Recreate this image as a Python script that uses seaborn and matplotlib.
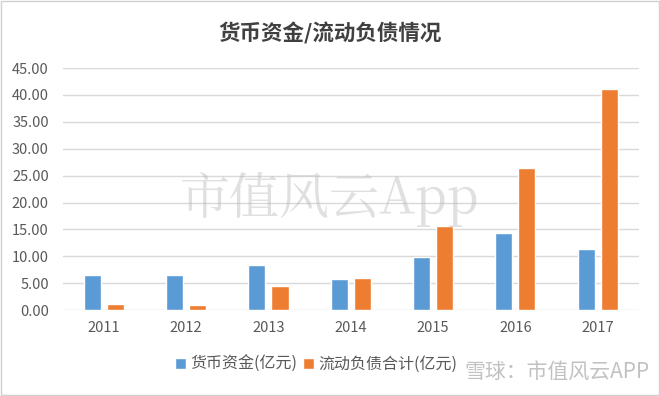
import matplotlib
matplotlib.use('Agg')
import matplotlib.pyplot as plt
import pandas as pd
import seaborn as sns

# values (亿元)
years = ['2011', '2012', '2013', '2014', '2015', '2016', '2017']
cash = [6.5, 6.5, 8.4, 5.8, 9.8, 14.3, 11.3]
current_liab = [1.2, 1.0, 4.5, 6.0, 15.7, 26.5, 41.1]
series_names = ['货币资金(亿元)', '流动负债合计(亿元)']
colors = ['#5B9BD5', '#ED7D31']

df = pd.DataFrame({
    'year': years * 2,
    'value': cash + current_liab,
    'series': [series_names[0]] * len(years) + [series_names[1]] * len(years),
})

sns.set_theme(style='white')
plt.rcParams['font.family'] = ['Noto Sans CJK SC', 'DejaVu Sans']

fig = plt.figure(figsize=(6.6, 3.96), dpi=100)
ax = fig.add_axes([0.095, 0.217, 0.873, 0.611])

sns.barplot(data=df, x='year', y='value', hue='series', palette=colors,
            saturation=1, width=0.56, gap=0.26, ax=ax, legend=True)

ax.set_ylim(0, 45)
ax.set_xlim(-0.5, 6.5)
ax.set_yticks(range(0, 46, 5))
ax.set_yticklabels(['{:.2f}'.format(v) for v in range(0, 46, 5)])
ax.yaxis.grid(True, color='#D9D9D9', linewidth=1)
ax.set_axisbelow(True)
for s in ax.spines.values():
    s.set_visible(False)
ax.tick_params(axis='both', length=0, labelsize=10.5, labelcolor='#595959')
ax.tick_params(axis='y', pad=10)
ax.tick_params(axis='x', pad=8)
ax.set_xlabel('')
ax.set_ylabel('')

leg = ax.legend(loc='upper center', bbox_to_anchor=(0.44, -0.13), ncol=2,
                frameon=False, fontsize=11.5, handlelength=0.7, handleheight=0.7,
                handletextpad=0.3, columnspacing=0.3)
for t in leg.get_texts():
    t.set_color('#595959')

fig.text(0.5, 0.915, '货币资金/流动负债情况', ha='center', va='center',
         fontsize=15.5, fontweight='bold', color='#404040')

# watermarks
fig.text(0.5, 0.495, '市值风云App', ha='center', va='center', fontsize=36,
         color='#BBBBBB', alpha=0.45, family=['Noto Serif CJK SC', 'Noto Sans CJK SC', 'DejaVu Sans'])
fig.text(0.985, 0.06, '雪球：市值风云APP', ha='right', va='center', fontsize=15,
         color='#999999', alpha=0.6)

# thin border around the picture
fig.patches.append(plt.Rectangle((0.002, 0.003), 0.996, 0.994, transform=fig.transFigure,
                                 fill=False, edgecolor='#D0D0D0', linewidth=1))

fig.savefig('out.png', dpi=100, facecolor='white')
